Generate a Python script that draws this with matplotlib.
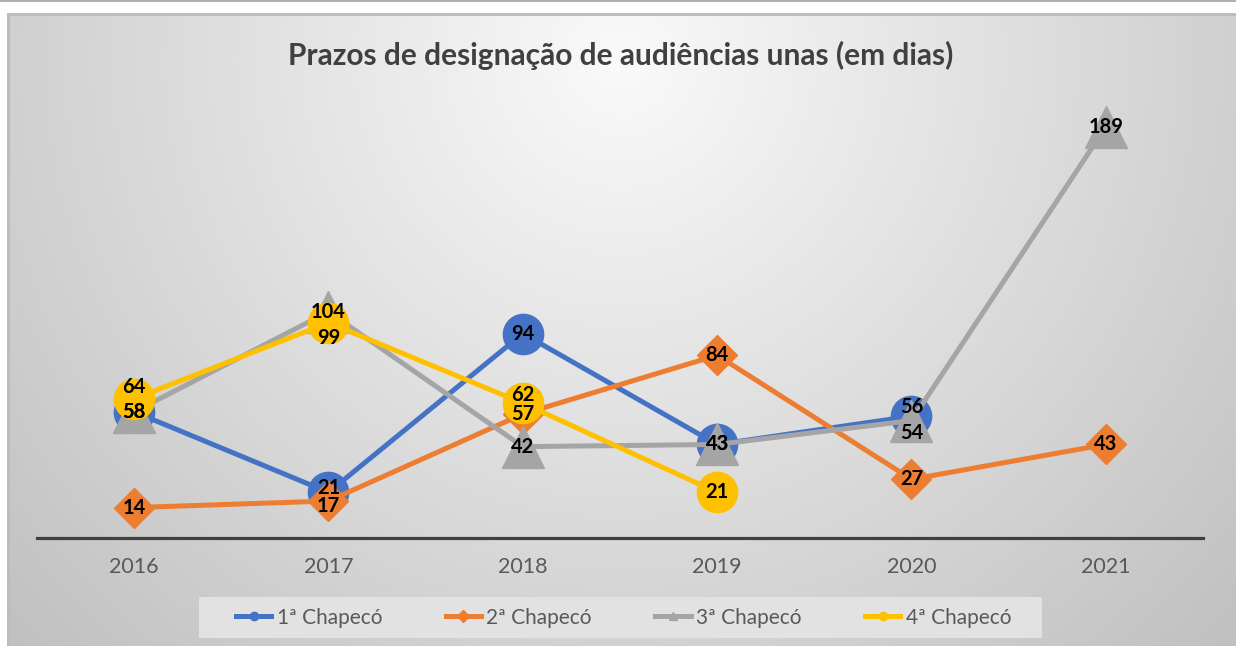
import numpy as np
import matplotlib
matplotlib.use("Agg")
import matplotlib.pyplot as plt
from matplotlib.lines import Line2D
from matplotlib.patches import Rectangle

# ---------------- data ----------------
years = ["2016", "2017", "2018", "2019", "2020", "2021"]
series_names = ["1ª Chapecó", "2ª Chapecó", "3ª Chapecó", "4ª Chapecó"]
vara1 = [58, 21, 94, 43, 56, None]
vara2 = [14, 17, 57, 84, 27, 43]
vara3 = [58, 104, 42, 43, 54, 189]
vara4 = [64, 99, 62, 21, None, None]
title = "Prazos de designação de audiências unas (em dias)"

# ---------------- style ----------------
colors = ["#4472C4", "#ED7D31", "#A5A5A5", "#FFC000"]
markers = ["o", "D", "^", "o"]
msizes = [29, 20, 30, 29]
# label vertical offsets (pixels, + = up) used to separate overlapping labels
label_dy = {(3, 0): 12, (3, 1): -15, (3, 2): 8, (0, 4): 9, (2, 4): -12,
            (1, 1): -5, (0, 1): 4}

W, H, DPI = 1236, 646, 100
plt.rcParams['font.family'] = ['Lato', 'DejaVu Sans']
fig = plt.figure(figsize=(W / DPI, H / DPI), dpi=DPI)

# background: radial gray gradient chart area
bg = fig.add_axes([0, 0, 1, 1], zorder=-10)
yy, xx = np.mgrid[0:H, 0:W]
r = np.sqrt((xx - 620) ** 2 + ((yy - 60) * 1.0) ** 2)
v = 250 - (250 - 192) * np.clip(r / 850, 0, 1)
img = np.stack([v, v, v], axis=-1) / 255.0
img[:13, :, :] = 1.0
img[:, :7, :] = 1.0
img[13:16, 7:, :] = 0.74
img[13:, 7:10, :] = 0.74
img[0:2, :, :] = 0.69
bg.imshow(img, aspect='auto', extent=[0, W, H, 0], interpolation='bilinear')
bg.set_xlim(0, W)
bg.set_ylim(H, 0)
bg.axis('off')
# legend box
bg.add_patch(Rectangle((199, 597), 843, 41, facecolor='#e2e2e2', edgecolor='none'))

ax = fig.add_axes([37 / W, (H - 538) / H, 1166 / W, 435 / H])
ax.set_facecolor('none')
x = np.arange(len(years))
data = [vara1, vara2, vara3, vara4]
px_per_pt = DPI / 72.0
for i, (vals, c, m, ms) in enumerate(zip(data, colors, markers, msizes)):
    xs = [xi for xi, vv in zip(x, vals) if vv is not None]
    ys = [vv for vv in vals if vv is not None]
    ax.plot(xs, ys, color=c, lw=3.6, marker=m, ms=ms, mec=c, mfc=c,
            zorder=3 + i, clip_on=False, solid_capstyle='round')
for i, vals in enumerate(data):
    for xi, vv in zip(x, vals):
        if vv is None:
            continue
        dy = label_dy.get((i, xi), 0) / px_per_pt
        ax.annotate(str(vv), (xi, vv), xytext=(0, dy), textcoords='offset points',
                    ha='center', va='center', fontsize=14.5, fontweight='bold',
                    color='black', zorder=10 + i, annotation_clip=False)

ax.set_xlim(-0.5, len(years) - 0.5)
ax.set_ylim(0, 200)
ax.set_xticks(x)
ax.set_xticklabels(years, fontsize=15.5, color='#595959')
ax.tick_params(axis='x', length=0, pad=14)
ax.set_yticks([])
for s in ['top', 'right', 'left']:
    ax.spines[s].set_visible(False)
ax.spines['bottom'].set_color('#404040')
ax.spines['bottom'].set_linewidth(2.3)
ax.spines['bottom'].set_zorder(2)

fig.text(621 / W, 1 - 55 / H, title, ha='center', va='center', fontsize=21.5,
         fontweight='bold', color='#404040')

handles = [Line2D([], [], color=c, lw=3.6, marker=m, ms=6, mec=c, mfc=c)
           for c, m in zip(colors, markers)]
leg = fig.legend(handles, series_names, loc='center', ncol=4,
                 bbox_to_anchor=(623.5 / W, 1 - 617.5 / H), frameon=False,
                 fontsize=15, handlelength=1.7,
                 handletextpad=0.25, columnspacing=3.05, borderpad=0.45,
                 borderaxespad=0, labelcolor='#595959')

fig.savefig('out.png', dpi=DPI)
